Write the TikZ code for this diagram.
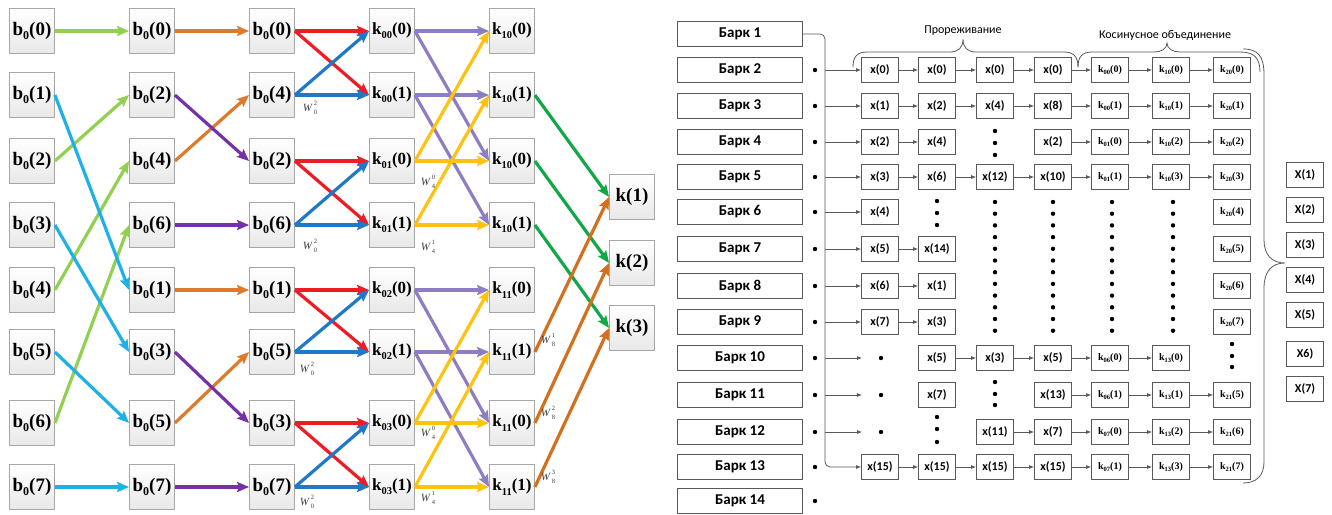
\documentclass[tikz,border=0pt]{standalone}
\usepackage{fontspec}
\setmainfont{Liberation Serif}
\newfontfamily\carl{Carlito}
\usetikzlibrary{arrows.meta}
\newcommand\lsub[1]{\raisebox{-0.25em}{\fontsize{12}{12}\selectfont #1}}
\newcommand\ksub[1]{\raisebox{-0.25em}{\fontsize{10.5}{10.5}\selectfont #1}}
\newcommand\rsub[1]{\raisebox{-0.2em}{\fontsize{6.5}{6.5}\selectfont #1}}
\newcommand\wlab[2]{\textit{W}\kern1.2pt\rlap{\raisebox{6pt}{\fontsize{6.5}{6.5}\selectfont #2}}\raisebox{-3.6pt}{\fontsize{6.5}{6.5}\selectfont #1}}
\definecolor{lgreen}{HTML}{92D050}
\definecolor{cyanc}{HTML}{1EB1E8}
\definecolor{orangec}{HTML}{DD7A2C}
\definecolor{purplec}{HTML}{7432A6}
\definecolor{redc}{HTML}{EE1C24}
\definecolor{bluec}{HTML}{1F78C8}
\definecolor{lavc}{HTML}{8F7DC4}
\definecolor{yelc}{HTML}{FFC20E}
\definecolor{dgreen}{HTML}{12A84A}
\definecolor{brownc}{HTML}{D2701E}
\begin{document}
\begin{tikzpicture}[x=1pt,y=-1pt,
  lbox/.style={draw=gray!70, line width=0.8pt, top color=white, bottom color=gray!18, minimum width=45pt, minimum height=45pt, inner sep=0pt, font=\fontsize{19}{19}\selectfont\bfseries},
  kbx/.style={lbox, font=\fontsize{17}{17}\selectfont\bfseries},
  la/.style={line width=3.2pt, -{Stealth[length=12pt,width=10pt,inset=2pt]}},
  wl/.style={font=\fontsize{11}{11}\selectfont, text=black!75, inner sep=0pt},
  bark/.style={draw=black!65, line width=0.8pt, fill=white, minimum width=125pt, minimum height=25pt, inner sep=0pt, font=\carl\bfseries\fontsize{15}{15}\selectfont},
  xb/.style={draw=black!65, line width=0.8pt, fill=white, minimum width=37pt, minimum height=25pt, inner sep=0pt, font=\carl\bfseries\fontsize{12}{12}\selectfont},
  kb/.style={xb, font=\bfseries\fontsize{10}{10}\selectfont},
  ra/.style={draw=black!65, line width=0.8pt, -{Latex[length=5pt,width=4pt]}},
  brc/.style={draw=black!65, line width=0.8pt},
  lbl/.style={font=\carl\fontsize{12}{12}\selectfont, inner sep=0pt}]
\useasboundingbox (0,0) rectangle (1332,514);

% ---------------- left: butterfly ----------------
\foreach \y/\t [count=\i from 0] in {31/0,95/1,161/2,225/3,290/4,352/5,423/6,487/7}
  \node[lbox] (a\i) at (32,\y) {b\lsub{0}(\t)};
\foreach \y/\t [count=\i from 0] in {31/0,95/2,161/4,225/6,290/1,352/3,423/5,487/7}
  \node[lbox] (b\i) at (152,\y) {b\lsub{0}(\t)};
\foreach \y/\t [count=\i from 0] in {31/0,95/4,161/2,225/6,290/1,352/5,423/3,487/7}
  \node[lbox] (c\i) at (272,\y) {b\lsub{0}(\t)};
\foreach \y/\ss/\t [count=\i from 0] in {31/00/0,95/00/1,161/01/0,225/01/1,290/02/0,352/02/1,423/03/0,487/03/1}
  \node[kbx] (d\i) at (392,\y) {k\ksub{\ss}(\t)};
\foreach \y/\ss/\t [count=\i from 0] in {31/10/0,95/10/1,161/10/0,225/10/1,290/11/0,352/11/1,423/11/0,487/11/1}
  \node[kbx] (e\i) at (512,\y) {k\ksub{\ss}(\t)};
\node[lbox] (f1) at (632,197) {k(1)};
\node[lbox] (f2) at (632,263) {k(2)};
\node[lbox] (f3) at (632,328) {k(3)};

\foreach \s/\t in {0/0,2/1,4/2,6/3} \draw[la,lgreen] (a\s.east) -- (b\t.west);
\foreach \s/\t in {1/4,3/5,5/6,7/7} \draw[la,cyanc] (a\s.east) -- (b\t.west);
\foreach \s/\t in {0/0,2/1,4/4,6/5} \draw[la,orangec] (b\s.east) -- (c\t.west);
\foreach \s/\t in {1/2,3/3,5/6,7/7} \draw[la,purplec] (b\s.east) -- (c\t.west);
\foreach \u/\l in {0/1,2/3,4/5,6/7} {\draw[la,redc] (c\u.east) -- (d\u.west); \draw[la,redc] (c\u.east) -- (d\l.west);}
\foreach \u/\l in {0/1,2/3,4/5,6/7} {\draw[la,bluec] (c\l.east) -- (d\u.west); \draw[la,bluec] (c\l.east) -- (d\l.west);}
\foreach \s/\t in {0/0,0/2,1/1,1/3,4/4,4/6,5/5,5/7} \draw[la,lavc] (d\s.east) -- (e\t.west);
\foreach \s/\t in {2/0,2/2,3/1,3/3,6/4,6/6,7/5,7/7} \draw[la,yelc] (d\s.east) -- (e\t.west);
\foreach \s/\t in {1/1,2/2,3/3} \draw[la,dgreen] (e\s.east) -- (f\t.west);
\foreach \s/\t in {5/1,6/2,7/3} \draw[la,brownc] (e\s.east) -- (f\t.west);

\node[wl] (w1) at (310,108) {\wlab{0}{2}};
\node[wl] (w2) at (310,246) {\wlab{0}{2}};
\node[wl] (w3) at (307,369) {\wlab{0}{2}};
\node[wl] (w4) at (307,502) {\wlab{0}{2}};
\node[wl] (w5) at (428,182) {\wlab{4}{0}};
\node[wl] (w6) at (428,247) {\wlab{4}{1}};
\node[wl] (w7) at (428,433) {\wlab{4}{0}};
\node[wl] (w8) at (428,498) {\wlab{4}{1}};
\node[wl] (w9) at (548,340) {\wlab{8}{1}};
\node[wl] (w10) at (548,413) {\wlab{8}{2}};
\node[wl] (w11) at (548,477) {\wlab{8}{3}};

% ---------------- right: Bark scheme ----------------
\node[bark] (bk1) at (740,34) {Барк 1};
\foreach \y [count=\i from 2] in {70,106,142,177,212,249,286,322,358,395,432,467,501} {
  \node[bark] (bk\i) at (740,\y) {Барк \i};
  \fill (815,\y) circle (2.2pt);
}
\foreach \y [count=\i from 1] in {70,106,142,177,212,249,286,322,358,395,432,467}
  \coordinate (v\i) at (825,\y);
\coordinate (vtop) at (825,34);

% row 1
\node[xb] (qA1) at (880,70) {x(0)};
\node[xb] (qB1) at (937,70) {x(0)};
\node[xb] (qC1) at (995,70) {x(0)};
\node[xb] (qD1) at (1053,70) {x(0)};
\node[kb] (qE1) at (1110,70) {k\rsub{00}(0)};
\node[kb] (qF1) at (1171,70) {k\rsub{10}(0)};
\node[kb] (qG1) at (1232,70) {k\rsub{20}(0)};
% row 2
\node[xb] (qA2) at (880,106) {x(1)};
\node[xb] (qB2) at (937,106) {x(2)};
\node[xb] (qC2) at (995,106) {x(4)};
\node[xb] (qD2) at (1053,106) {x(8)};
\node[kb] (qE2) at (1110,106) {k\rsub{00}(1)};
\node[kb] (qF2) at (1171,106) {k\rsub{10}(1)};
\node[kb] (qG2) at (1232,106) {k\rsub{20}(1)};
% row 3
\node[xb] (qA3) at (880,142) {x(2)};
\node[xb] (qB3) at (937,142) {x(4)};
\node[xb] (qD3) at (1053,142) {x(2)};
\node[kb] (qE3) at (1110,142) {k\rsub{01}(0)};
\node[kb] (qF3) at (1171,142) {k\rsub{10}(2)};
\node[kb] (qG3) at (1232,142) {k\rsub{20}(2)};
% row 4
\node[xb] (qA4) at (880,177) {x(3)};
\node[xb] (qB4) at (937,177) {x(6)};
\node[xb] (qC4) at (995,177) {x(12)};
\node[xb] (qD4) at (1053,177) {x(10)};
\node[kb] (qE4) at (1110,177) {k\rsub{01}(1)};
\node[kb] (qF4) at (1171,177) {k\rsub{10}(3)};
\node[kb] (qG4) at (1232,177) {k\rsub{20}(3)};
% rows 5-8
\node[xb] (qA5) at (880,212) {x(4)};
\node[kb] (qG5) at (1232,212) {k\rsub{20}(4)};
\node[xb] (qA6) at (880,249) {x(5)};
\node[xb] (qB6) at (937,249) {x(14)};
\node[kb] (qG6) at (1232,249) {k\rsub{20}(5)};
\node[xb] (qA7) at (880,286) {x(6)};
\node[xb] (qB7) at (937,286) {x(1)};
\node[kb] (qG7) at (1232,286) {k\rsub{20}(6)};
\node[xb] (qA8) at (880,322) {x(7)};
\node[xb] (qB8) at (937,322) {x(3)};
\node[kb] (qG8) at (1232,322) {k\rsub{20}(7)};
% row 9
\node[xb] (qB9) at (937,358) {x(5)};
\node[xb] (qC9) at (995,358) {x(3)};
\node[xb] (qD9) at (1053,358) {x(5)};
\node[kb] (qE9) at (1110,358) {k\rsub{06}(0)};
\node[kb] (qF9) at (1171,358) {k\rsub{13}(0)};
% row 10
\node[xb] (qB10) at (937,395) {x(7)};
\node[xb] (qD10) at (1053,395) {x(13)};
\node[kb] (qE10) at (1110,395) {k\rsub{06}(1)};
\node[kb] (qF10) at (1171,395) {k\rsub{13}(1)};
\node[kb] (qG10) at (1232,395) {k\rsub{21}(5)};
% row 11
\node[xb] (qC11) at (995,432) {x(11)};
\node[xb] (qD11) at (1053,432) {x(7)};
\node[kb] (qE11) at (1110,432) {k\rsub{07}(0)};
\node[kb] (qF11) at (1171,432) {k\rsub{13}(2)};
\node[kb] (qG11) at (1232,432) {k\rsub{21}(6)};
% row 12
\node[xb] (qA12) at (880,467) {x(15)};
\node[xb] (qB12) at (937,467) {x(15)};
\node[xb] (qC12) at (995,467) {x(15)};
\node[xb] (qD12) at (1053,467) {x(15)};
\node[kb] (qE12) at (1110,467) {k\rsub{07}(1)};
\node[kb] (qF12) at (1171,467) {k\rsub{13}(3)};
\node[kb] (qG12) at (1232,467) {k\rsub{21}(7)};

% X column
\foreach \y/\t [count=\i from 1] in {175/X(1),210/X(2),245/X(3),280/X(4),315/X(5),354/X6),389/X(7)}
  \node[xb] (X\i) at (1305,\y) {\t};

% connectors
\draw[ra, rounded corners=5pt] (bk1.east) -- (vtop) -- (v12) -- (qA12.west);
\foreach \i in {1,...,8} \draw[ra] (v\i) -- (qA\i.west);
\foreach \i/\y in {9/358,10/395,11/432} {
  \coordinate (t\i) at (862,\y);
  \draw[ra] (v\i) -- (t\i);
  \fill (881,\y) circle (2.2pt);
}
\foreach \p/\q in {A1/B1,B1/C1,C1/D1,D1/E1,E1/F1,F1/G1,
                   A2/B2,B2/C2,C2/D2,D2/E2,E2/F2,F2/G2,
                   A3/B3,D3/E3,E3/F3,F3/G3,
                   A4/B4,B4/C4,C4/D4,D4/E4,E4/F4,F4/G4,
                   A6/B6,A7/B7,A8/B8,
                   B9/C9,C9/D9,D9/E9,E9/F9,
                   D10/E10,E10/F10,F10/G10,
                   C11/D11,D11/E11,E11/F11,F11/G11,
                   A12/B12,B12/C12,C12/D12,D12/E12,E12/F12,F12/G12}
  \draw[ra] (q\p.east) -- (q\q.west);

% vertical dots
\foreach \y in {131,143,155} \fill (995,\y) circle (2.2pt);
\foreach \y in {201,213,225} \fill (937,\y) circle (2.2pt);
\foreach \x in {995,1053,1112,1173}
  \foreach \k in {0,...,11} \fill (\x,202+11.7*\k) circle (2.2pt);
\foreach \y in {382,394,405} \fill (995,\y) circle (2.2pt);
\foreach \y in {417,429,442} \fill (937,\y) circle (2.2pt);
\foreach \y in {344,356,367} \fill (1232,\y) circle (2.2pt);

% braces
\draw[brc] (853,67) .. controls (853,57) and (857,52) .. (867,52) -- (950,52)
  .. controls (958,52) and (963,48) .. (963,39) .. controls (963,48) and (968,52) .. (976,52)
  -- (1064,52) .. controls (1074,52) and (1078,57) .. (1078,67);
\draw[brc] (1078,67) .. controls (1078,57) and (1082,52) .. (1092,52) -- (1154,52)
  .. controls (1161,52) and (1167,49) .. (1167,43) .. controls (1167,49) and (1173,52) .. (1180,52)
  -- (1240,52) .. controls (1254,52) and (1260,58) .. (1260,72);
\draw[brc] (1243,49) .. controls (1258,49) and (1264,56) .. (1264,75) -- (1264,240)
  .. controls (1264,255) and (1272,263) .. (1285,263) .. controls (1272,263) and (1264,271) .. (1264,288)
  -- (1264,462) .. controls (1264,476) and (1256,483) .. (1243,483);
\node[lbl] (lab1) at (963,31) {Прореживание};
\node[lbl] (lab2) at (1165,35) {Косинусное объединение};
\end{tikzpicture}
\end{document}
